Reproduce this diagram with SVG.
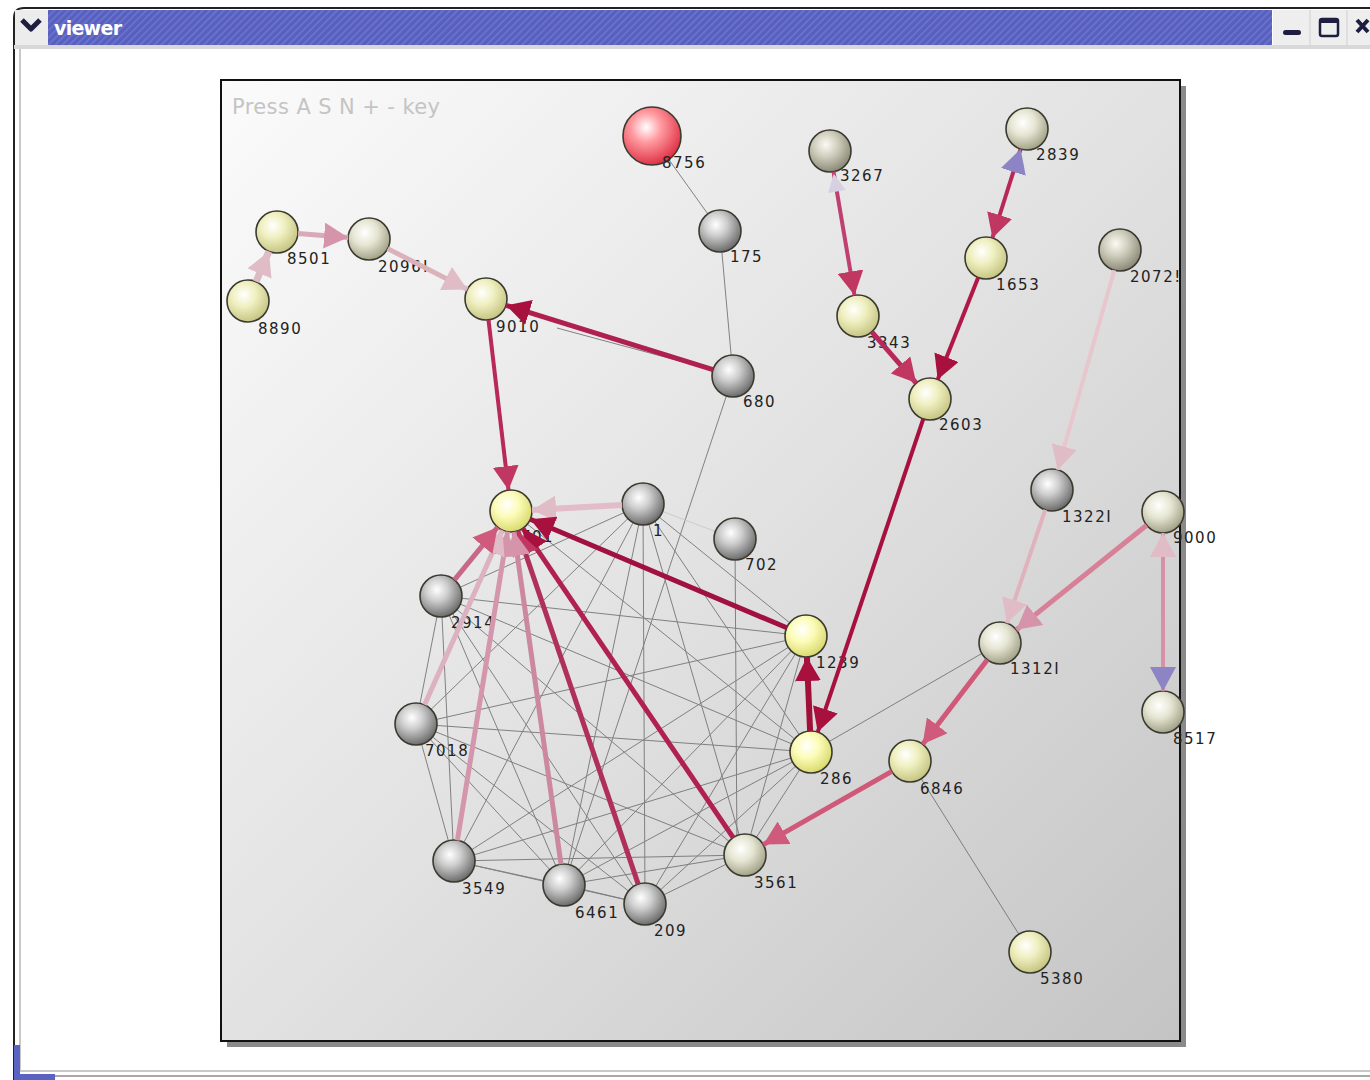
<svg xmlns="http://www.w3.org/2000/svg" width="1370" height="1080" viewBox="0 0 1370 1080">
<style>
.lbl{font-family:"DejaVu Sans","Liberation Sans",sans-serif;font-size:15px;letter-spacing:1.5px;fill:#222}
.thin{stroke:#707070;stroke-width:1;opacity:0.85;fill:none}
.node{stroke:#3a3a30;stroke-width:1.6}
.e{fill:none;stroke-linecap:butt}
</style>
<defs>
<pattern id="stripes" width="5" height="5" patternUnits="userSpaceOnUse" patternTransform="rotate(45)">
<rect width="5" height="5" fill="#5860bf"/>
<rect width="1.5" height="5" fill="#6e76cf"/>
</pattern>
<linearGradient id="panelBg" x1="0" y1="0" x2="1" y2="1">
<stop offset="0" stop-color="#fbfbfb"/>
<stop offset="0.5" stop-color="#e2e2e2"/>
<stop offset="1" stop-color="#c4c4c4"/>
</linearGradient>
<radialGradient id="gYel" cx="0.4" cy="0.35" r="0.65">
<stop offset="0" stop-color="#ffffff"/>
<stop offset="0.45" stop-color="#efefc0"/>
<stop offset="1" stop-color="#c6c684"/>
</radialGradient>
<radialGradient id="gBri" cx="0.4" cy="0.35" r="0.65">
<stop offset="0" stop-color="#ffffff"/>
<stop offset="0.45" stop-color="#fcfcb8"/>
<stop offset="1" stop-color="#dada70"/>
</radialGradient>
<radialGradient id="gKha" cx="0.4" cy="0.35" r="0.65">
<stop offset="0" stop-color="#ffffff"/>
<stop offset="0.45" stop-color="#e6e6d4"/>
<stop offset="1" stop-color="#a4a48a"/>
</radialGradient>
<radialGradient id="gKhd" cx="0.4" cy="0.35" r="0.65">
<stop offset="0" stop-color="#fafaf4"/>
<stop offset="0.45" stop-color="#cfcdbc"/>
<stop offset="1" stop-color="#8c8a78"/>
</radialGradient>
<radialGradient id="gGry" cx="0.4" cy="0.35" r="0.65">
<stop offset="0" stop-color="#ffffff"/>
<stop offset="0.4" stop-color="#cfcfcf"/>
<stop offset="1" stop-color="#6e6e6e"/>
</radialGradient>
<radialGradient id="gRed" cx="0.4" cy="0.35" r="0.65">
<stop offset="0" stop-color="#ffffff"/>
<stop offset="0.4" stop-color="#ff9aa0"/>
<stop offset="1" stop-color="#e03448"/>
</radialGradient>
<marker id="aDark" markerUnits="userSpaceOnUse" markerWidth="26" markerHeight="26" refX="24" refY="13" orient="auto"><path d="M0,0 L24,13 L0,26 z" fill="#a8103e"/></marker>
<marker id="aMid" markerUnits="userSpaceOnUse" markerWidth="26" markerHeight="26" refX="24" refY="13" orient="auto"><path d="M0,0 L24,13 L0,26 z" fill="#c03862"/></marker>
<marker id="aRose" markerUnits="userSpaceOnUse" markerWidth="26" markerHeight="26" refX="24" refY="13" orient="auto"><path d="M0,0 L24,13 L0,26 z" fill="#d05a7c"/></marker>
<marker id="aPink" markerUnits="userSpaceOnUse" markerWidth="26" markerHeight="26" refX="24" refY="13" orient="auto"><path d="M0,0 L24,13 L0,26 z" fill="#d694aa"/></marker>
<marker id="aPale" markerUnits="userSpaceOnUse" markerWidth="26" markerHeight="26" refX="24" refY="13" orient="auto"><path d="M0,0 L24,13 L0,26 z" fill="#dfbcc6"/></marker>
<marker id="aPurp" markerUnits="userSpaceOnUse" markerWidth="26" markerHeight="26" refX="24" refY="13" orient="auto"><path d="M0,0 L24,13 L0,26 z" fill="#8c84c4"/></marker>
<marker id="aLav" markerUnits="userSpaceOnUse" markerWidth="26" markerHeight="26" refX="24" refY="13" orient="auto"><path d="M4,4 L22,13 L4,22 z" fill="#d6d0e2"/></marker>
</defs>

<!-- window -->
<rect x="0" y="0" width="1370" height="1080" fill="#ffffff"/>
<path d="M14,1080 L14,18 Q14,8 24,8 L1370,8" fill="none" stroke="#222" stroke-width="2"/>
<rect x="48" y="10" width="1224" height="35" fill="url(#stripes)"/>
<rect x="15" y="10" width="33" height="35" fill="#ececec"/>
<path d="M22,20 L31,29 L40,20" fill="none" stroke="#1e1e40" stroke-width="5" stroke-linejoin="round"/>
<text x="54" y="35" font-family="DejaVu Sans,Liberation Sans,sans-serif" font-weight="bold" font-size="19" fill="#ffffff" textLength="68">viewer</text>
<rect x="1273" y="10" width="97" height="35" fill="#eeeeee"/>
<line x1="1310" y1="10" x2="1310" y2="45" stroke="#cfcfcf"/>
<line x1="1347" y1="10" x2="1347" y2="45" stroke="#cfcfcf"/>
<rect x="1283" y="30" width="18" height="5" rx="2.5" fill="#1e1e40"/>
<rect x="1320" y="19" width="18" height="17" rx="2" fill="none" stroke="#1e1e40" stroke-width="2.5"/>
<rect x="1320" y="19" width="18" height="4" fill="#1e1e40"/>
<path d="M1357,20 L1368,32 M1368,20 L1357,32" stroke="#1e1e40" stroke-width="4"/>
<rect x="14" y="45" width="1356" height="4" fill="#d8d8d8"/>
<line x1="20" y1="49" x2="20" y2="1072" stroke="#c8c8c8" stroke-width="2"/>
<line x1="20" y1="1071" x2="1370" y2="1071" stroke="#c8c8c8" stroke-width="2"/>
<line x1="14" y1="1076" x2="1370" y2="1076" stroke="#a8a8a8" stroke-width="2"/>
<path d="M14,1045 L20,1045 L20,1074 L55,1074 L55,1080 L14,1080 z" fill="#5a62c2"/>

<!-- panel -->
<rect x="227" y="86" width="959" height="961" fill="#8a8a8a"/>
<rect x="221" y="80" width="959" height="961" fill="url(#panelBg)" stroke="#111" stroke-width="2"/>
<text x="232" y="114" font-family="DejaVu Sans,Liberation Sans,sans-serif" font-size="21" fill="#c4c4c4" textLength="208">Press A S N + - key</text>

<!-- thin connectors -->
<g id="connectors-thin" class="thin">
<line x1="652" y1="136" x2="720" y2="231"/>
<line x1="720" y1="231" x2="733" y2="376"/>
<line x1="733" y1="376" x2="564" y2="885"/>
<line x1="557" y1="328" x2="713" y2="370"/>
<line x1="1000" y1="643" x2="811" y2="752"/>
<line x1="910" y1="761" x2="1030" y2="952"/>
<line x1="511" y1="511" x2="811" y2="752"/>
<line x1="643" y1="504" x2="441" y2="596"/>
<line x1="643" y1="504" x2="416" y2="724"/>
<line x1="643" y1="504" x2="454" y2="861"/>
<line x1="643" y1="504" x2="564" y2="885"/>
<line x1="643" y1="504" x2="645" y2="904"/>
<line x1="643" y1="504" x2="745" y2="855"/>
<line x1="643" y1="504" x2="806" y2="636"/>
<line x1="643" y1="504" x2="811" y2="752"/>
<line x1="441" y1="596" x2="416" y2="724"/>
<line x1="441" y1="596" x2="454" y2="861"/>
<line x1="441" y1="596" x2="564" y2="885"/>
<line x1="441" y1="596" x2="645" y2="904"/>
<line x1="441" y1="596" x2="745" y2="855"/>
<line x1="441" y1="596" x2="806" y2="636"/>
<line x1="441" y1="596" x2="811" y2="752"/>
<line x1="416" y1="724" x2="454" y2="861"/>
<line x1="416" y1="724" x2="564" y2="885"/>
<line x1="416" y1="724" x2="645" y2="904"/>
<line x1="416" y1="724" x2="745" y2="855"/>
<line x1="416" y1="724" x2="806" y2="636"/>
<line x1="416" y1="724" x2="811" y2="752"/>
<line x1="454" y1="861" x2="564" y2="885"/>
<line x1="454" y1="861" x2="645" y2="904"/>
<line x1="454" y1="861" x2="745" y2="855"/>
<line x1="454" y1="861" x2="806" y2="636"/>
<line x1="454" y1="861" x2="811" y2="752"/>
<line x1="564" y1="885" x2="645" y2="904"/>
<line x1="564" y1="885" x2="745" y2="855"/>
<line x1="564" y1="885" x2="806" y2="636"/>
<line x1="564" y1="885" x2="811" y2="752"/>
<line x1="645" y1="904" x2="745" y2="855"/>
<line x1="645" y1="904" x2="806" y2="636"/>
<line x1="645" y1="904" x2="811" y2="752"/>
<line x1="745" y1="855" x2="806" y2="636"/>
<line x1="745" y1="855" x2="811" y2="752"/>
<line x1="643" y1="504" x2="735" y2="539" stroke="#c8c8c8"/>
<line x1="735" y1="539" x2="737" y2="855"/>
</g>

<!-- nodes -->
<g id="n8756"><circle class="node" cx="652" cy="136" r="29" fill="url(#gRed)"/></g>
<g id="n175"><circle class="node" cx="720" cy="231" r="21" fill="url(#gGry)"/></g>
<g id="n8501"><circle class="node" cx="277" cy="232" r="21" fill="url(#gYel)"/></g>
<g id="n20965"><circle class="node" cx="369" cy="239" r="21" fill="url(#gKha)"/></g>
<g id="n8890"><circle class="node" cx="248" cy="301" r="21" fill="url(#gYel)"/></g>
<g id="n9010"><circle class="node" cx="486" cy="299" r="21" fill="url(#gYel)"/></g>
<g id="n680"><circle class="node" cx="733" cy="376" r="21" fill="url(#gGry)"/></g>
<g id="n3267"><circle class="node" cx="830" cy="151" r="21" fill="url(#gKhd)"/></g>
<g id="n2839"><circle class="node" cx="1027" cy="129" r="21" fill="url(#gKha)"/></g>
<g id="n1653"><circle class="node" cx="986" cy="258" r="21" fill="url(#gYel)"/></g>
<g id="n20725"><circle class="node" cx="1120" cy="250" r="21" fill="url(#gKhd)"/></g>
<g id="n3343"><circle class="node" cx="858" cy="316" r="21" fill="url(#gYel)"/></g>
<g id="n2603"><circle class="node" cx="930" cy="399" r="21" fill="url(#gYel)"/></g>
<g id="n701"><circle class="node" cx="511" cy="511" r="21" fill="url(#gBri)"/></g>
<g id="n1"><circle class="node" cx="643" cy="504" r="21" fill="url(#gGry)"/></g>
<g id="n702"><circle class="node" cx="735" cy="539" r="21" fill="url(#gGry)"/></g>
<g id="n2914"><circle class="node" cx="441" cy="596" r="21" fill="url(#gGry)"/></g>
<g id="n1239"><circle class="node" cx="806" cy="636" r="21" fill="url(#gBri)"/></g>
<g id="n13221"><circle class="node" cx="1052" cy="490" r="21" fill="url(#gGry)"/></g>
<g id="n9000"><circle class="node" cx="1163" cy="512" r="21" fill="url(#gKha)"/></g>
<g id="n13120"><circle class="node" cx="1000" cy="643" r="21" fill="url(#gKha)"/></g>
<g id="n7018"><circle class="node" cx="416" cy="724" r="21" fill="url(#gGry)"/></g>
<g id="n286"><circle class="node" cx="811" cy="752" r="21" fill="url(#gBri)"/></g>
<g id="n6846"><circle class="node" cx="910" cy="761" r="21" fill="url(#gYel)"/></g>
<g id="n8517"><circle class="node" cx="1163" cy="712" r="21" fill="url(#gKha)"/></g>
<g id="n3549"><circle class="node" cx="454" cy="861" r="21" fill="url(#gGry)"/></g>
<g id="n6461"><circle class="node" cx="564" cy="885" r="21" fill="url(#gGry)"/></g>
<g id="n209"><circle class="node" cx="645" cy="904" r="21" fill="url(#gGry)"/></g>
<g id="n3561"><circle class="node" cx="745" cy="855" r="21" fill="url(#gKha)"/></g>
<g id="n5380"><circle class="node" cx="1030" cy="952" r="21" fill="url(#gYel)"/></g>

<!-- labels -->
<g id="labels" class="lbl">
<text x="662" y="168">8756</text>
<text x="730" y="262">175</text>
<text x="287" y="264">8501</text>
<text x="378" y="272">2096!</text>
<text x="258" y="334">8890</text>
<text x="496" y="332">9010</text>
<text x="743" y="407">680</text>
<text x="840" y="181">3267</text>
<text x="1036" y="160">2839</text>
<text x="996" y="290">1653</text>
<text x="1130" y="282">2072!</text>
<text x="867" y="348">3343</text>
<text x="939" y="430">2603</text>
<text x="521" y="542">701</text>
<text x="653" y="536">1</text>
<text x="745" y="570">702</text>
<text x="451" y="628">2914</text>
<text x="816" y="668">1239</text>
<text x="1062" y="522">1322I</text>
<text x="1173" y="543">9000</text>
<text x="1010" y="674">1312I</text>
<text x="425" y="756">7018</text>
<text x="820" y="784">286</text>
<text x="920" y="794">6846</text>
<text x="1173" y="744">8517</text>
<text x="462" y="894">3549</text>
<text x="575" y="918">6461</text>
<text x="654" y="936">209</text>
<text x="754" y="888">3561</text>
<text x="1040" y="984">5380</text>
</g>

<!-- directed connectors -->
<g id="connectors">
<line class="e" x1="256.1" y1="281.6" x2="268.9" y2="251.4" stroke="#dcbcc4" stroke-width="7" marker-end="url(#aPale)"/>
<line class="e" x1="298" y1="233.6" x2="348.1" y2="237.4" stroke="#d8aab8" stroke-width="5" marker-end="url(#aPink)"/>
<line class="e" x1="387.7" y1="248.6" x2="467.3" y2="289.4" stroke="#dab2bc" stroke-width="5" marker-end="url(#aPale)"/>
<line class="e" x1="712.9" y1="369.7" x2="506.1" y2="305.3" stroke="#b0204e" stroke-width="5" marker-end="url(#aDark)"/>
<line class="e" x1="488.5" y1="319.9" x2="508.5" y2="490.1" stroke="#b82858" stroke-width="4" marker-end="url(#aMid)"/>
<line class="e" x1="622" y1="505.1" x2="532" y2="509.9" stroke="#e2bcc8" stroke-width="6" marker-end="url(#aPale)"/>
<line class="e" x1="786.7" y1="627.8" x2="530.3" y2="519.2" stroke="#a01040" stroke-width="5" marker-end="url(#aDark)"/>
<line class="e" x1="733.2" y1="837.6" x2="522.8" y2="528.4" stroke="#b02050" stroke-width="5" marker-end="url(#aDark)"/>
<line class="e" x1="638.2" y1="884.1" x2="517.8" y2="530.9" stroke="#b0305c" stroke-width="5" marker-end="url(#aMid)"/>
<line class="e" x1="561" y1="864.2" x2="514" y2="531.8" stroke="#cc88a0" stroke-width="5" marker-end="url(#aPink)"/>
<line class="e" x1="457.4" y1="840.3" x2="507.6" y2="531.7" stroke="#d496ac" stroke-width="5" marker-end="url(#aPink)"/>
<line class="e" x1="424.6" y1="704.8" x2="502.4" y2="530.2" stroke="#dcb2c0" stroke-width="5" marker-end="url(#aPale)"/>
<line class="e" x1="454.4" y1="579.8" x2="497.6" y2="527.2" stroke="#c86888" stroke-width="5" marker-end="url(#aRose)"/>
<line class="e" x1="833.5" y1="171.7" x2="854.5" y2="295.3" stroke="#c04070" stroke-width="4" marker-end="url(#aMid)"/>
<line class="e" x1="854.5" y1="295.3" x2="833.5" y2="171.7" stroke="#c04070" stroke-width="0.1" marker-end="url(#aLav)"/>
<line class="e" x1="871.8" y1="331.9" x2="916.2" y2="383.1" stroke="#b82858" stroke-width="5" marker-end="url(#aMid)"/>
<line class="e" x1="978.2" y1="277.5" x2="937.7" y2="379.5" stroke="#b01848" stroke-width="4" marker-end="url(#aDark)"/>
<line class="e" x1="1020.6" y1="149" x2="992.4" y2="238" stroke="#b8285a" stroke-width="4" marker-end="url(#aMid)"/>
<line class="e" x1="992.4" y1="238" x2="1020.6" y2="149" stroke="#b8285a" stroke-width="0.1" marker-end="url(#aPurp)"/>
<line class="e" x1="923.3" y1="418.9" x2="817.7" y2="732.1" stroke="#a81040" stroke-width="4" marker-end="url(#aDark)"/>
<line class="e" x1="810.1" y1="731" x2="806.9" y2="657" stroke="#a01038" stroke-width="6" marker-end="url(#aDark)"/>
<line class="e" x1="1114.3" y1="270.2" x2="1057.7" y2="469.8" stroke="#e8c6ce" stroke-width="4" marker-end="url(#aPale)"/>
<line class="e" x1="1045.2" y1="509.9" x2="1006.8" y2="623.1" stroke="#e0b2be" stroke-width="4" marker-end="url(#aPale)"/>
<line class="e" x1="1146.6" y1="525.2" x2="1016.4" y2="629.8" stroke="#d88098" stroke-width="5" marker-end="url(#aPink)"/>
<line class="e" x1="987.3" y1="659.7" x2="922.7" y2="744.3" stroke="#d05878" stroke-width="5" marker-end="url(#aRose)"/>
<line class="e" x1="891.8" y1="771.4" x2="763.3" y2="844.6" stroke="#d05878" stroke-width="5" marker-end="url(#aRose)"/>
<line class="e" x1="1163" y1="533" x2="1163" y2="691" stroke="#d890a8" stroke-width="4" marker-end="url(#aPurp)"/>
<line class="e" x1="1163" y1="691" x2="1163" y2="533" stroke="#d890a8" stroke-width="0.1" marker-end="url(#aPale)"/>
</g>
</svg>
